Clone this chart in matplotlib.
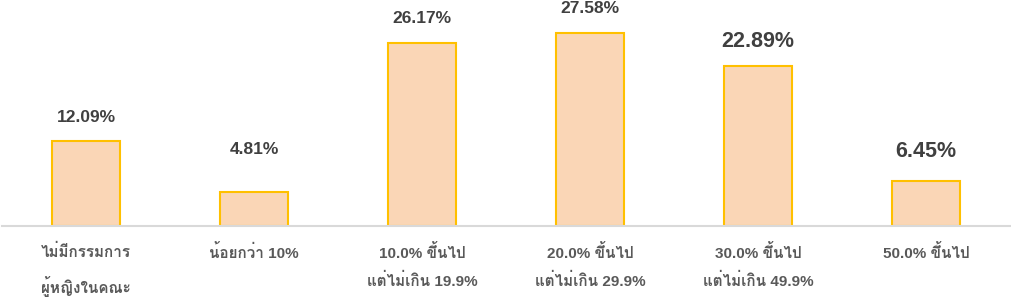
import matplotlib
matplotlib.use("Agg")
import matplotlib.pyplot as plt

categories = ["ไม่มีกรรมการ\nผู้หญิงในคณะ", "น้อยกว่า 10%", "10.0% ขึ้นไป\nแต่ไม่เกิน 19.9%",
              "20.0% ขึ้นไป\nแต่ไม่เกิน 29.9%", "30.0% ขึ้นไป\nแต่ไม่เกิน 49.9%", "50.0% ขึ้นไป"]
values = [12.09, 4.81, 26.17, 27.58, 22.89, 6.45]
labels = ["12.09%", "4.81%", "26.17%", "27.58%", "22.89%", "6.45%"]

label_sizes = [12.5, 12.5, 12.5, 12.5, 15.5, 15.5]
label_offsets_px = [24, 43, 24, 24, 24, 29]

fam = ["Liberation Sans", "Loma"]
plt.rcParams["font.family"] = fam

fig = plt.figure(figsize=(10.12, 2.97), dpi=100)
ax = fig.add_axes([2 / 1012, 1 - 226 / 297, 1008 / 1012, 224 / 297])
x = list(range(len(values)))
bars = ax.bar(x, values, width=0.405, color="#FAD6B6", edgecolor="#FFC000", linewidth=1.5, zorder=2)
ax.set_xlim(-0.5, len(values) - 0.5)
ax.set_ylim(0, 32)

for xi, v, lab, fs, off in zip(x, values, labels, label_sizes, label_offsets_px):
    ax.annotate(lab, (xi, v), xytext=(0, off * 72 / 100), textcoords="offset points",
                ha="center", va="center", fontsize=fs, fontweight="bold", color="#404040")

ax.set_xticks(x)
ax.set_xticklabels(categories, fontsize=11, fontweight="bold", color="#595959", linespacing=1.9, va="top")
ax.tick_params(axis="x", length=0, pad=13)
ax.set_yticks([])
for s in ["top", "right", "left"]:
    ax.spines[s].set_visible(False)
ax.spines["bottom"].set_color("#D9D9D9")
ax.spines["bottom"].set_linewidth(1.5)
ax.spines["bottom"].set_zorder(3)

fig.savefig("out.png", dpi=100)
